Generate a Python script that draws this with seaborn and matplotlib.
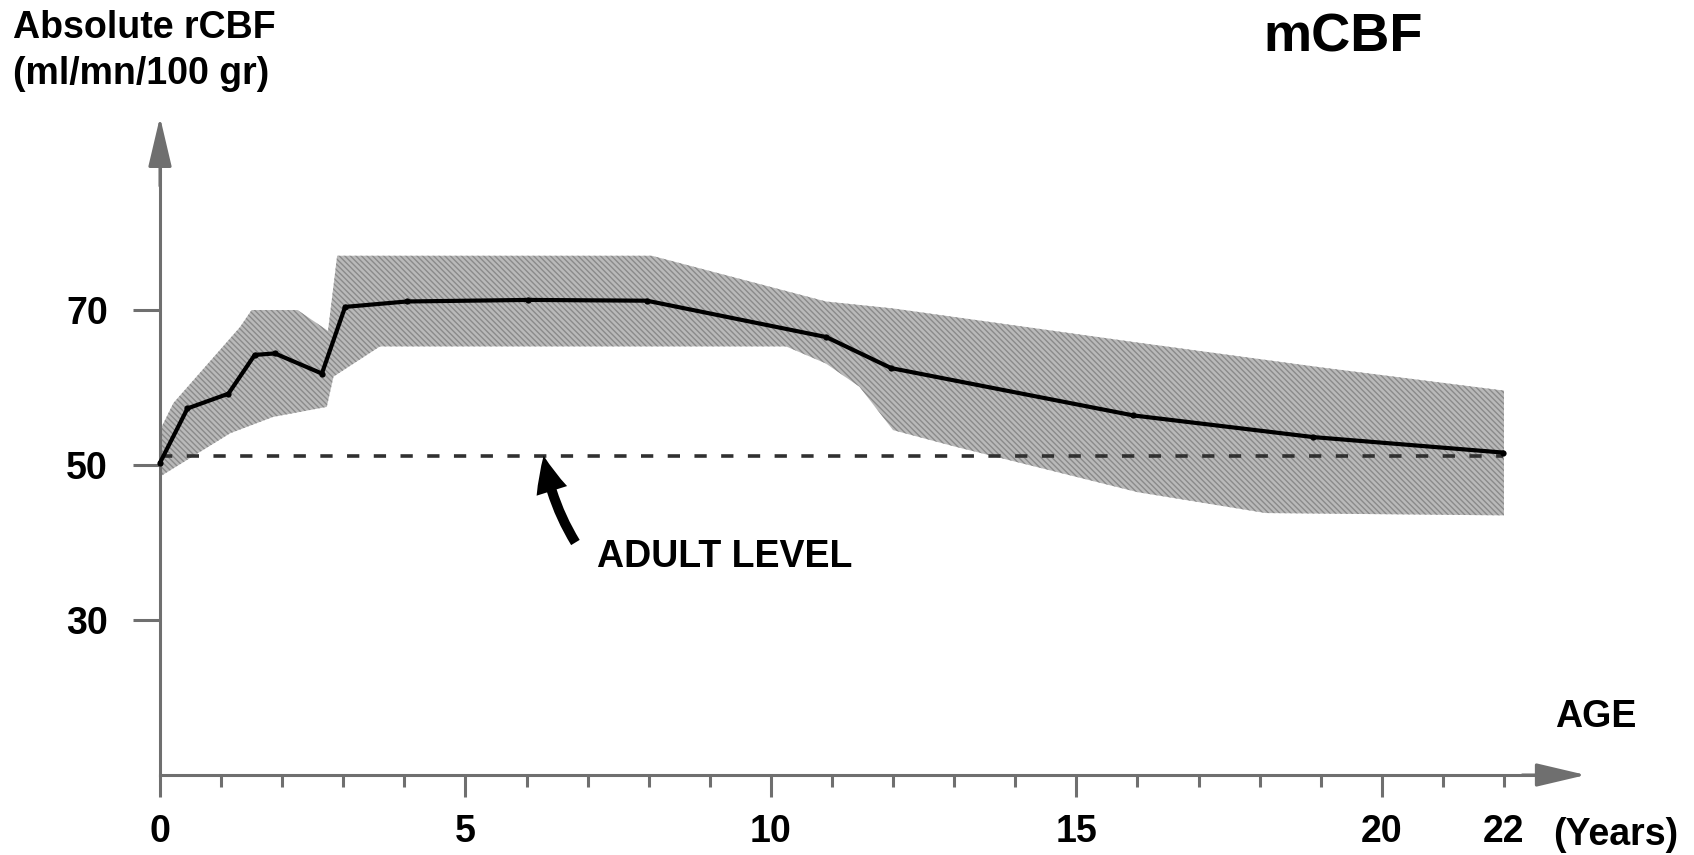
import matplotlib
matplotlib.use("Agg")
import matplotlib.pyplot as plt
import seaborn as sns
import pandas as pd

# Mean cerebral blood flow (ml/mn/100 gr) against age in years
age = [0, 0.45, 1.12, 1.55, 1.88, 2.65, 3.03, 4.04, 6.03, 7.97, 10.91, 11.97, 15.93, 18.88, 21.99]
mcbf = [50.3, 57.3, 59.2, 64.2, 64.4, 61.8, 70.4, 71.1, 71.3, 71.2, 66.5, 62.5, 56.4, 53.6, 51.6]

# Limits of the normal range (shaded band)
upper_age = [0, 0.22, 1.31, 1.5, 2.25, 2.75, 2.9, 8.05, 10.9, 12.0, 16.0, 19.0, 22.0]
upper_val = [54.5, 58.0, 67.8, 70.0, 70.0, 67.3, 77.0, 77.0, 71.1, 70.2, 65.8, 62.6, 59.6]
lower_age = [0, 1.15, 1.85, 2.73, 2.84, 3.6, 10.25, 10.9, 11.45, 12.0, 13.0, 16.0, 18.1, 22.0]
lower_val = [48.5, 54.1, 56.2, 57.5, 61.4, 65.3, 65.3, 63.1, 60.1, 54.5, 52.4, 46.5, 43.8, 43.5]

adult_level = 51.2

x_major = [0, 5, 10, 15, 20, 22]
x_minor = [1, 2, 3, 4, 6, 7, 8, 9, 11, 12, 13, 14, 16, 17, 18, 19, 21]
y_major = [30, 50, 70]

W, H = 1694, 855
AXIS_GREY = "#6f6f6f"
BAND_FACE = "#b9b9b9"
BAND_HATCH = "#8a8a8a"

sns.set_style("white")
plt.rcParams["font.family"] = ["Liberation Sans", "DejaVu Sans"]
plt.rcParams["font.weight"] = "bold"
plt.rcParams["text.color"] = "black"
plt.rcParams["xtick.labelcolor"] = "black"
plt.rcParams["ytick.labelcolor"] = "black"
plt.rcParams["hatch.linewidth"] = 1.0

fig = plt.figure(figsize=(W / 100, H / 100), dpi=100)
ax = fig.add_axes([0, 0, 1, 1])
ax.patch.set_alpha(0)

# shaded normal range, screened with a fine diagonal texture
band_x = upper_age + lower_age[::-1]
band_y = upper_val + lower_val[::-1]
band = ax.fill(band_x, band_y, facecolor=BAND_FACE, edgecolor=BAND_HATCH, lw=0,
               hatch="\\\\\\\\\\\\", zorder=1)[0]

# adult reference level
adult = pd.DataFrame({"age": [age[0], age[-1]], "level": [adult_level, adult_level]})
sns.lineplot(data=adult, x="age", y="level", ax=ax, color="#303030", lw=2.6,
             dashes=False, zorder=2).lines[-1].set_dashes((3.4, 4.0))

# mean curve
df = pd.DataFrame({"age": age, "mcbf": mcbf})
sns.lineplot(data=df, x="age", y="mcbf", ax=ax, color="black", lw=3.0,
             marker="o", markersize=4.5, markeredgewidth=0, zorder=3)

ax.set_xlim(-160 / 61.09, (W - 160) / 61.09)
ax.set_ylim(50 - (H - 465) / 7.75, 50 + 465 / 7.75)
ax.set_xlabel("")
ax.set_ylabel("")

# axes drawn as arrows through the origin (age 0, flow 10)
for side in ("top", "right"):
    ax.spines[side].set_visible(False)
ax.spines["left"].set_position(("data", 0))
ax.spines["left"].set_bounds(10, 90)
ax.spines["bottom"].set_position(("data", 10))
ax.spines["bottom"].set_bounds(0, 23)
for side in ("left", "bottom"):
    ax.spines[side].set_color(AXIS_GREY)
    ax.spines[side].set_linewidth(2.2)

arrow_kw = dict(arrowstyle="-|>,head_length=1.4,head_width=0.33", mutation_scale=22,
                color=AXIS_GREY, lw=2.2, shrinkA=0, shrinkB=0)
ax.annotate("", xy=(23.34, 10), xytext=(22.3, 10), arrowprops=arrow_kw)
ax.annotate("", xy=(0, 94.9), xytext=(0, 86), arrowprops=arrow_kw)

ax.set_xticks(x_major)
ax.set_xticks(x_minor, minor=True)
ax.set_yticks(y_major)
ax.tick_params(axis="x", which="both", bottom=True, top=False)
ax.tick_params(axis="y", which="both", left=True, right=False)
ax.tick_params(axis="x", which="major", direction="out", length=16, width=2.2,
               color=AXIS_GREY, pad=12, labelsize=27, labelcolor="black")
ax.tick_params(axis="x", which="minor", direction="out", length=8.5, width=2.2,
               color=AXIS_GREY)
ax.tick_params(axis="y", which="major", direction="out", length=19.5, width=2.2,
               color=AXIS_GREY, pad=18, labelsize=27, labelcolor="black")
for lbl in ax.get_xticklabels() + ax.get_yticklabels():
    lbl.set_fontweight("bold")
ax.xaxis.get_major_ticks()[-1].tick1line.set_markersize(8.5)

# annotation for the adult level
ax.annotate("", xy=(6.28, adult_level), xytext=(6.80, 40.0),
            arrowprops=dict(arrowstyle="simple,head_length=1.3,head_width=1.15,tail_width=0.36",
                            mutation_scale=20, color="black", lw=0,
                            connectionstyle="arc3,rad=-0.1", shrinkA=0, shrinkB=0))


def ftext(px, py, s, **kw):
    fig.text(px / W, 1 - py / H, s, fontweight="bold", color="black", **kw)


ftext(597, 567, "ADULT LEVEL", fontsize=27, ha="left", va="baseline")
ftext(13, 38, "Absolute rCBF", fontsize=27, ha="left", va="baseline")
ftext(13, 84, "(ml/mn/100 gr)", fontsize=27, ha="left", va="baseline")
ftext(1343, 52, "mCBF", fontsize=39, ha="center", va="baseline")
ftext(1596, 727, "AGE", fontsize=27, ha="center", va="baseline")
ftext(1553, 845, "(Years)", fontsize=27, ha="left", va="baseline")

fig.savefig("out.png", dpi=100)
